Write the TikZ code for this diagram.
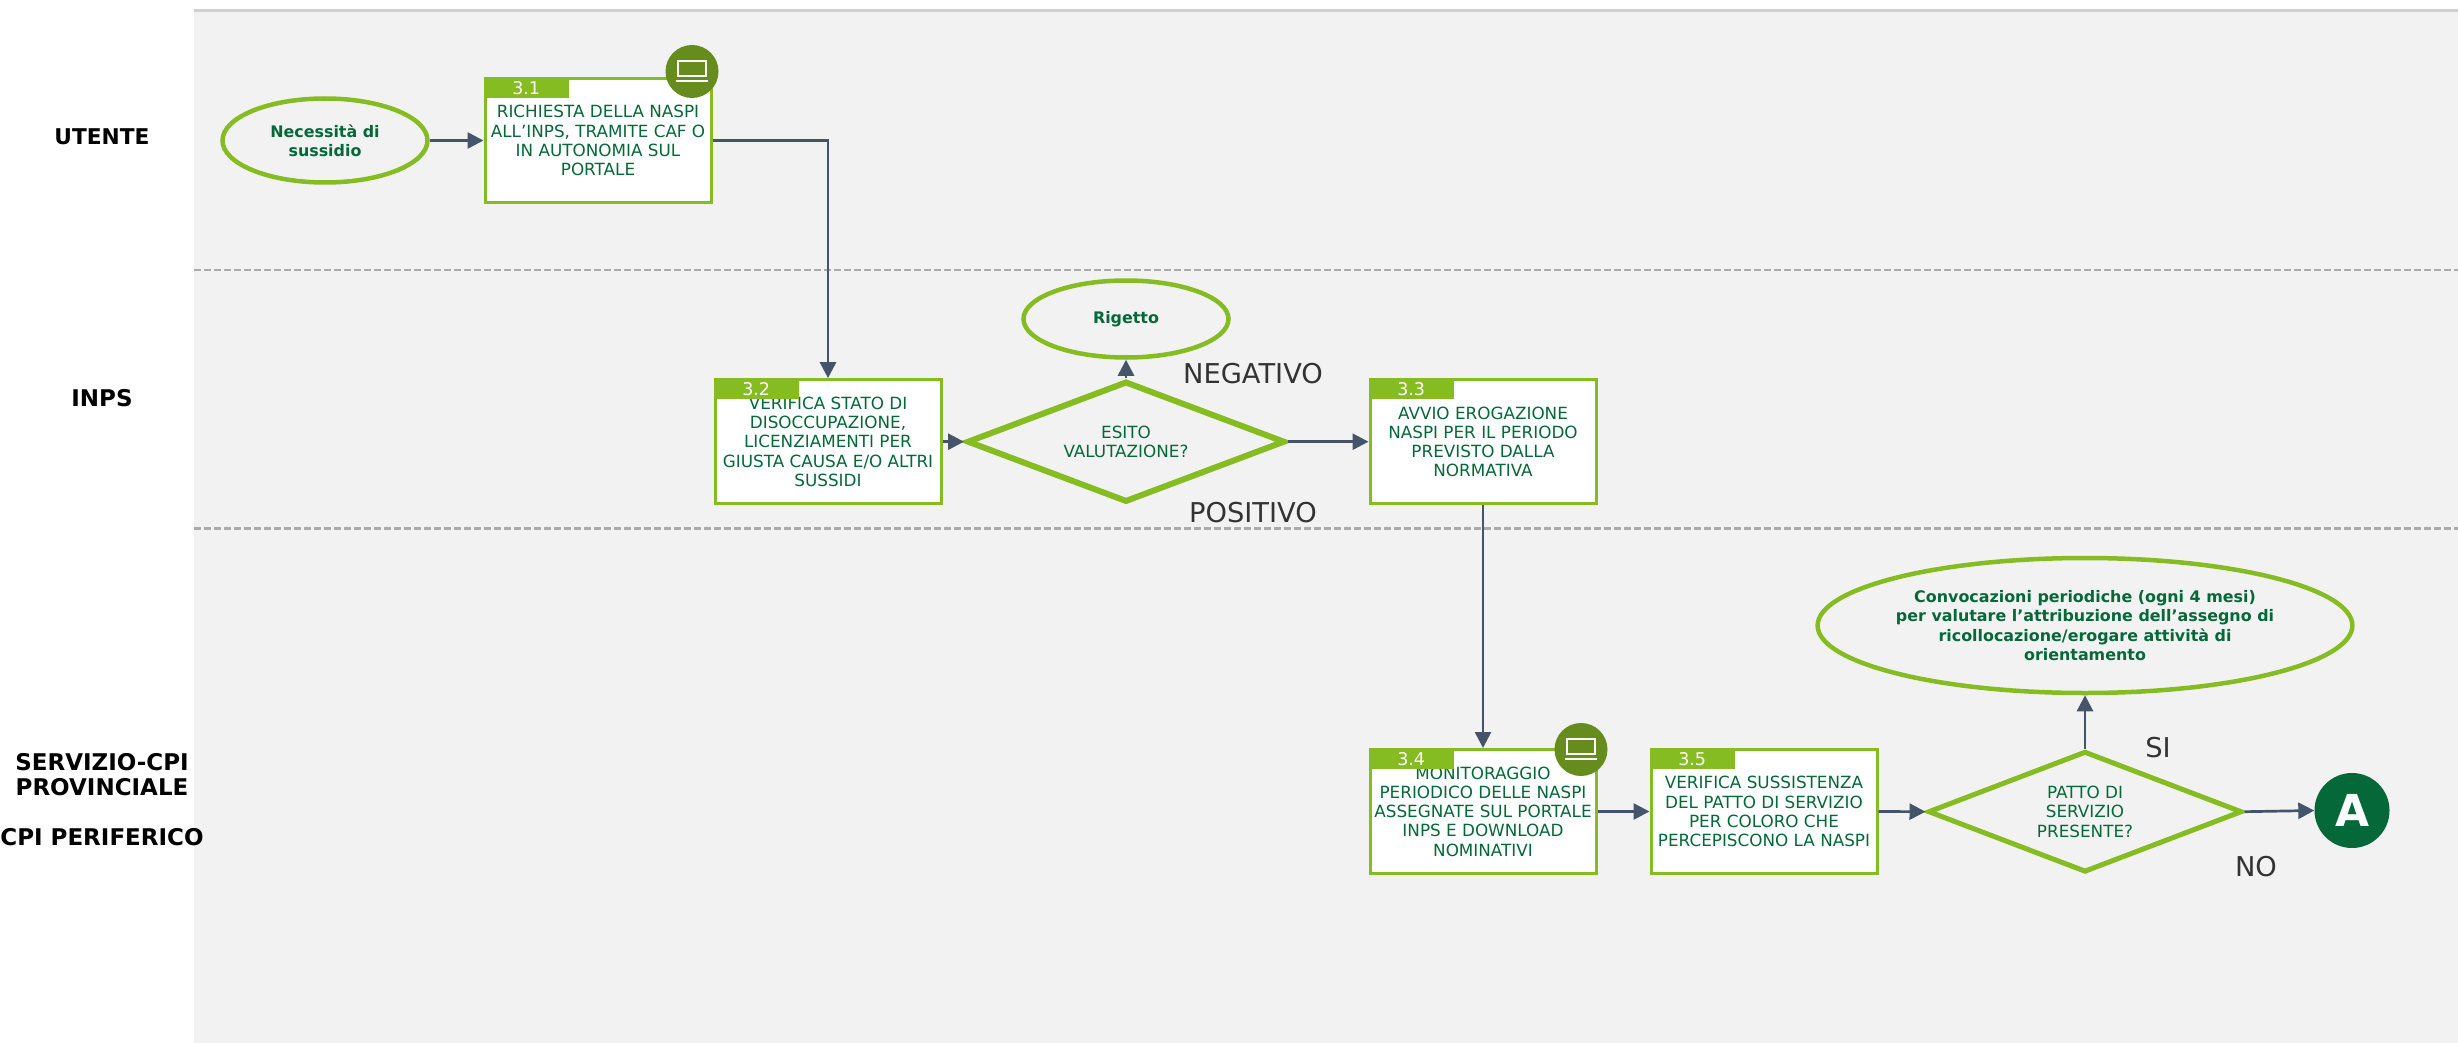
\documentclass[tikz,border=0pt]{standalone}
\usepackage{fontspec}
\setmainfont{DejaVu Sans}
\usetikzlibrary{shapes.geometric,arrows.meta}
\definecolor{lane}{HTML}{F2F2F2}
\definecolor{topline}{HTML}{CFCFCF}
\definecolor{sep}{HTML}{ABABAB}
\definecolor{lime}{HTML}{85BC22}
\definecolor{olive}{HTML}{668C1E}
\definecolor{deep}{HTML}{056839}
\definecolor{wire}{HTML}{44546A}
\definecolor{word}{HTML}{333333}
\tikzset{
  x=1pt,y=-1pt,
  boxtext/.style={font=\fontsize{16.8}{19.2}\selectfont,text=deep,align=center,inner sep=0pt},
  taskbox/.style={boxtext,draw=lime,fill=white,line width=3pt,minimum width=226pt,minimum height=124pt},
  tabbox/.style={fill=lime,text=white,inner sep=0pt,anchor=north west,minimum width=85pt,minimum height=21pt,font=\fontsize{17.5}{19}\selectfont},
  endpoint/.style={ellipse,draw=lime,line width=4.5pt,inner sep=0pt,text=deep,align=center,font=\bfseries\fontsize{15.9}{19.4}\selectfont},
  choice/.style={diamond,boxtext,draw=lime,fill=none},
  wirearrow/.style={draw=wire,line width=2.7pt,-{Triangle[length=16pt,width=16pt]}},
  lanelabel/.style={font=\bfseries\fontsize{23}{25}\selectfont,text=black,align=center,inner sep=0pt},
  outcome/.style={font=\fontsize{27.3}{30}\selectfont,text=word,inner sep=0pt},
  sepline/.style={draw=sep,line width=2.6pt,dash pattern=on 7pt off 3pt},
  laptopdot/.style={circle,fill=olive,minimum size=53pt,inner sep=0pt},
  laptopline/.style={draw=white,line width=1.8pt}
}
\begin{document}
\begin{tikzpicture}
\useasboundingbox (0,0) rectangle (2458,1043);
\fill[white] (0,0) rectangle (2458,1043);
\fill[lane] (194,11) rectangle (2458,1043);
\draw[topline,line width=3pt] (194,10.5) -- (2458,10.5);
\draw[sepline] (194,270) -- (2458,270);
\draw[sepline] (194,528.5) -- (2458,528.5);

% lane labels
\node[lanelabel,font=\bfseries\fontsize{21.7}{25}\selectfont] (l1) at (102,137) {UTENTE};
\node[lanelabel] (l2) at (102,398) {INPS};
\node[lanelabel] (l3) at (102,800) {SERVIZIO-CPI\\PROVINCIALE\\[25pt]CPI PERIFERICO};

% start and end points
\node[endpoint,minimum width=205pt,minimum height=84pt] (start) at (325,140.5) {Necessità di\\sussidio};
\node[endpoint,minimum width=205pt,minimum height=77pt] (rej) at (1126,319) {Rigetto};
\node[endpoint,minimum width=534pt,minimum height=135pt] (conv) at (2085,625.5) {Convocazioni periodiche (ogni 4 mesi)\\per valutare l’attribuzione dell’assegno di\\ricollocazione/erogare attività di\\orientamento};

% task boxes
\node[taskbox] (b1) at (598,140.5) {RICHIESTA DELLA NASPI\\ALL’INPS, TRAMITE CAF O\\IN AUTONOMIA SUL\\PORTALE};
\node[taskbox] (b2) at (828,441.7) {VERIFICA STATO DI\\DISOCCUPAZIONE,\\LICENZIAMENTI PER\\GIUSTA CAUSA E/O ALTRI\\SUSSIDI};
\node[taskbox] (b3) at (1483,441.7) {AVVIO EROGAZIONE\\NASPI PER IL PERIODO\\PREVISTO DALLA\\NORMATIVA};
\node[taskbox] (b4) at (1483,811.5) {MONITORAGGIO\\PERIODICO DELLE NASPI\\ASSEGNATE SUL PORTALE\\INPS E DOWNLOAD\\NOMINATIVI};
\node[taskbox] (b5) at (1764,811.5) {VERIFICA SUSSISTENZA\\DEL PATTO DI SERVIZIO\\PER COLORO CHE\\PERCEPISCONO LA NASPI};

\node[tabbox] (t1) at (b1.north west) {3.1};
\node[tabbox] (t2) at (b2.north west) {3.2};
\node[tabbox] (t3) at (b3.north west) {3.3};
\node[tabbox] (t4) at (b4.north west) {3.4};
\node[tabbox] (t5) at (b5.north west) {3.5};

% decisions
\node[choice,aspect=2.62,line width=6pt,minimum width=318pt,minimum height=121pt] (d1) at (1126,441.7) {ESITO\\VALUTAZIONE?};
\node[choice,aspect=2.585,line width=5pt,minimum width=314pt,minimum height=121pt] (d2) at (2085,811.7) {PATTO DI\\SERVIZIO\\PRESENTE?};

% off-page connector
\node[circle,fill=deep,text=white,minimum size=75pt,inner sep=0pt,font=\bfseries\fontsize{44}{44}\selectfont] (a) at (2352,810.5) {A};

% laptop badges
\node[laptopdot] (p1) at (692,71.5) {};
\draw[laptopline] ([shift={(-14,-10.5)}]p1.center) rectangle ([shift={(14,4.5)}]p1.center);
\draw[laptopline] ([shift={(-16,9.5)}]p1.center) -- ([shift={(16,9.5)}]p1.center);
\node[laptopdot] (p4) at (1581,749.5) {};
\draw[laptopline] ([shift={(-14,-10.5)}]p4.center) rectangle ([shift={(14,4.5)}]p4.center);
\draw[laptopline] ([shift={(-16,9.5)}]p4.center) -- ([shift={(16,9.5)}]p4.center);

% outcome labels
\node[outcome] (neg) at (1253,374) {NEGATIVO};
\node[outcome] (pos) at (1253,513) {POSITIVO};
\node[outcome] (si) at (2158,748) {SI};
\node[outcome] (no) at (2256,867) {NO};

% connectors
\draw[wirearrow] (start.east) -- (b1.west);
\draw[wirearrow] (b1.east) -| (b2.north);
\draw[wirearrow] (b2.east) -- (d1.west);
\draw[wirearrow] (d1.north) -- (rej.south);
\draw[wirearrow] (d1.east) -- (b3.west);
\draw[wirearrow] (b3.south) -- (b4.north);
\draw[wirearrow] (b4.east) -- (b5.west);
\draw[wirearrow] (b5.east) -- (d2.west);
\draw[wirearrow] (d2.north) -- (conv.south);
\draw[wirearrow] (d2.east) -- (a.west);
\end{tikzpicture}
\end{document}
